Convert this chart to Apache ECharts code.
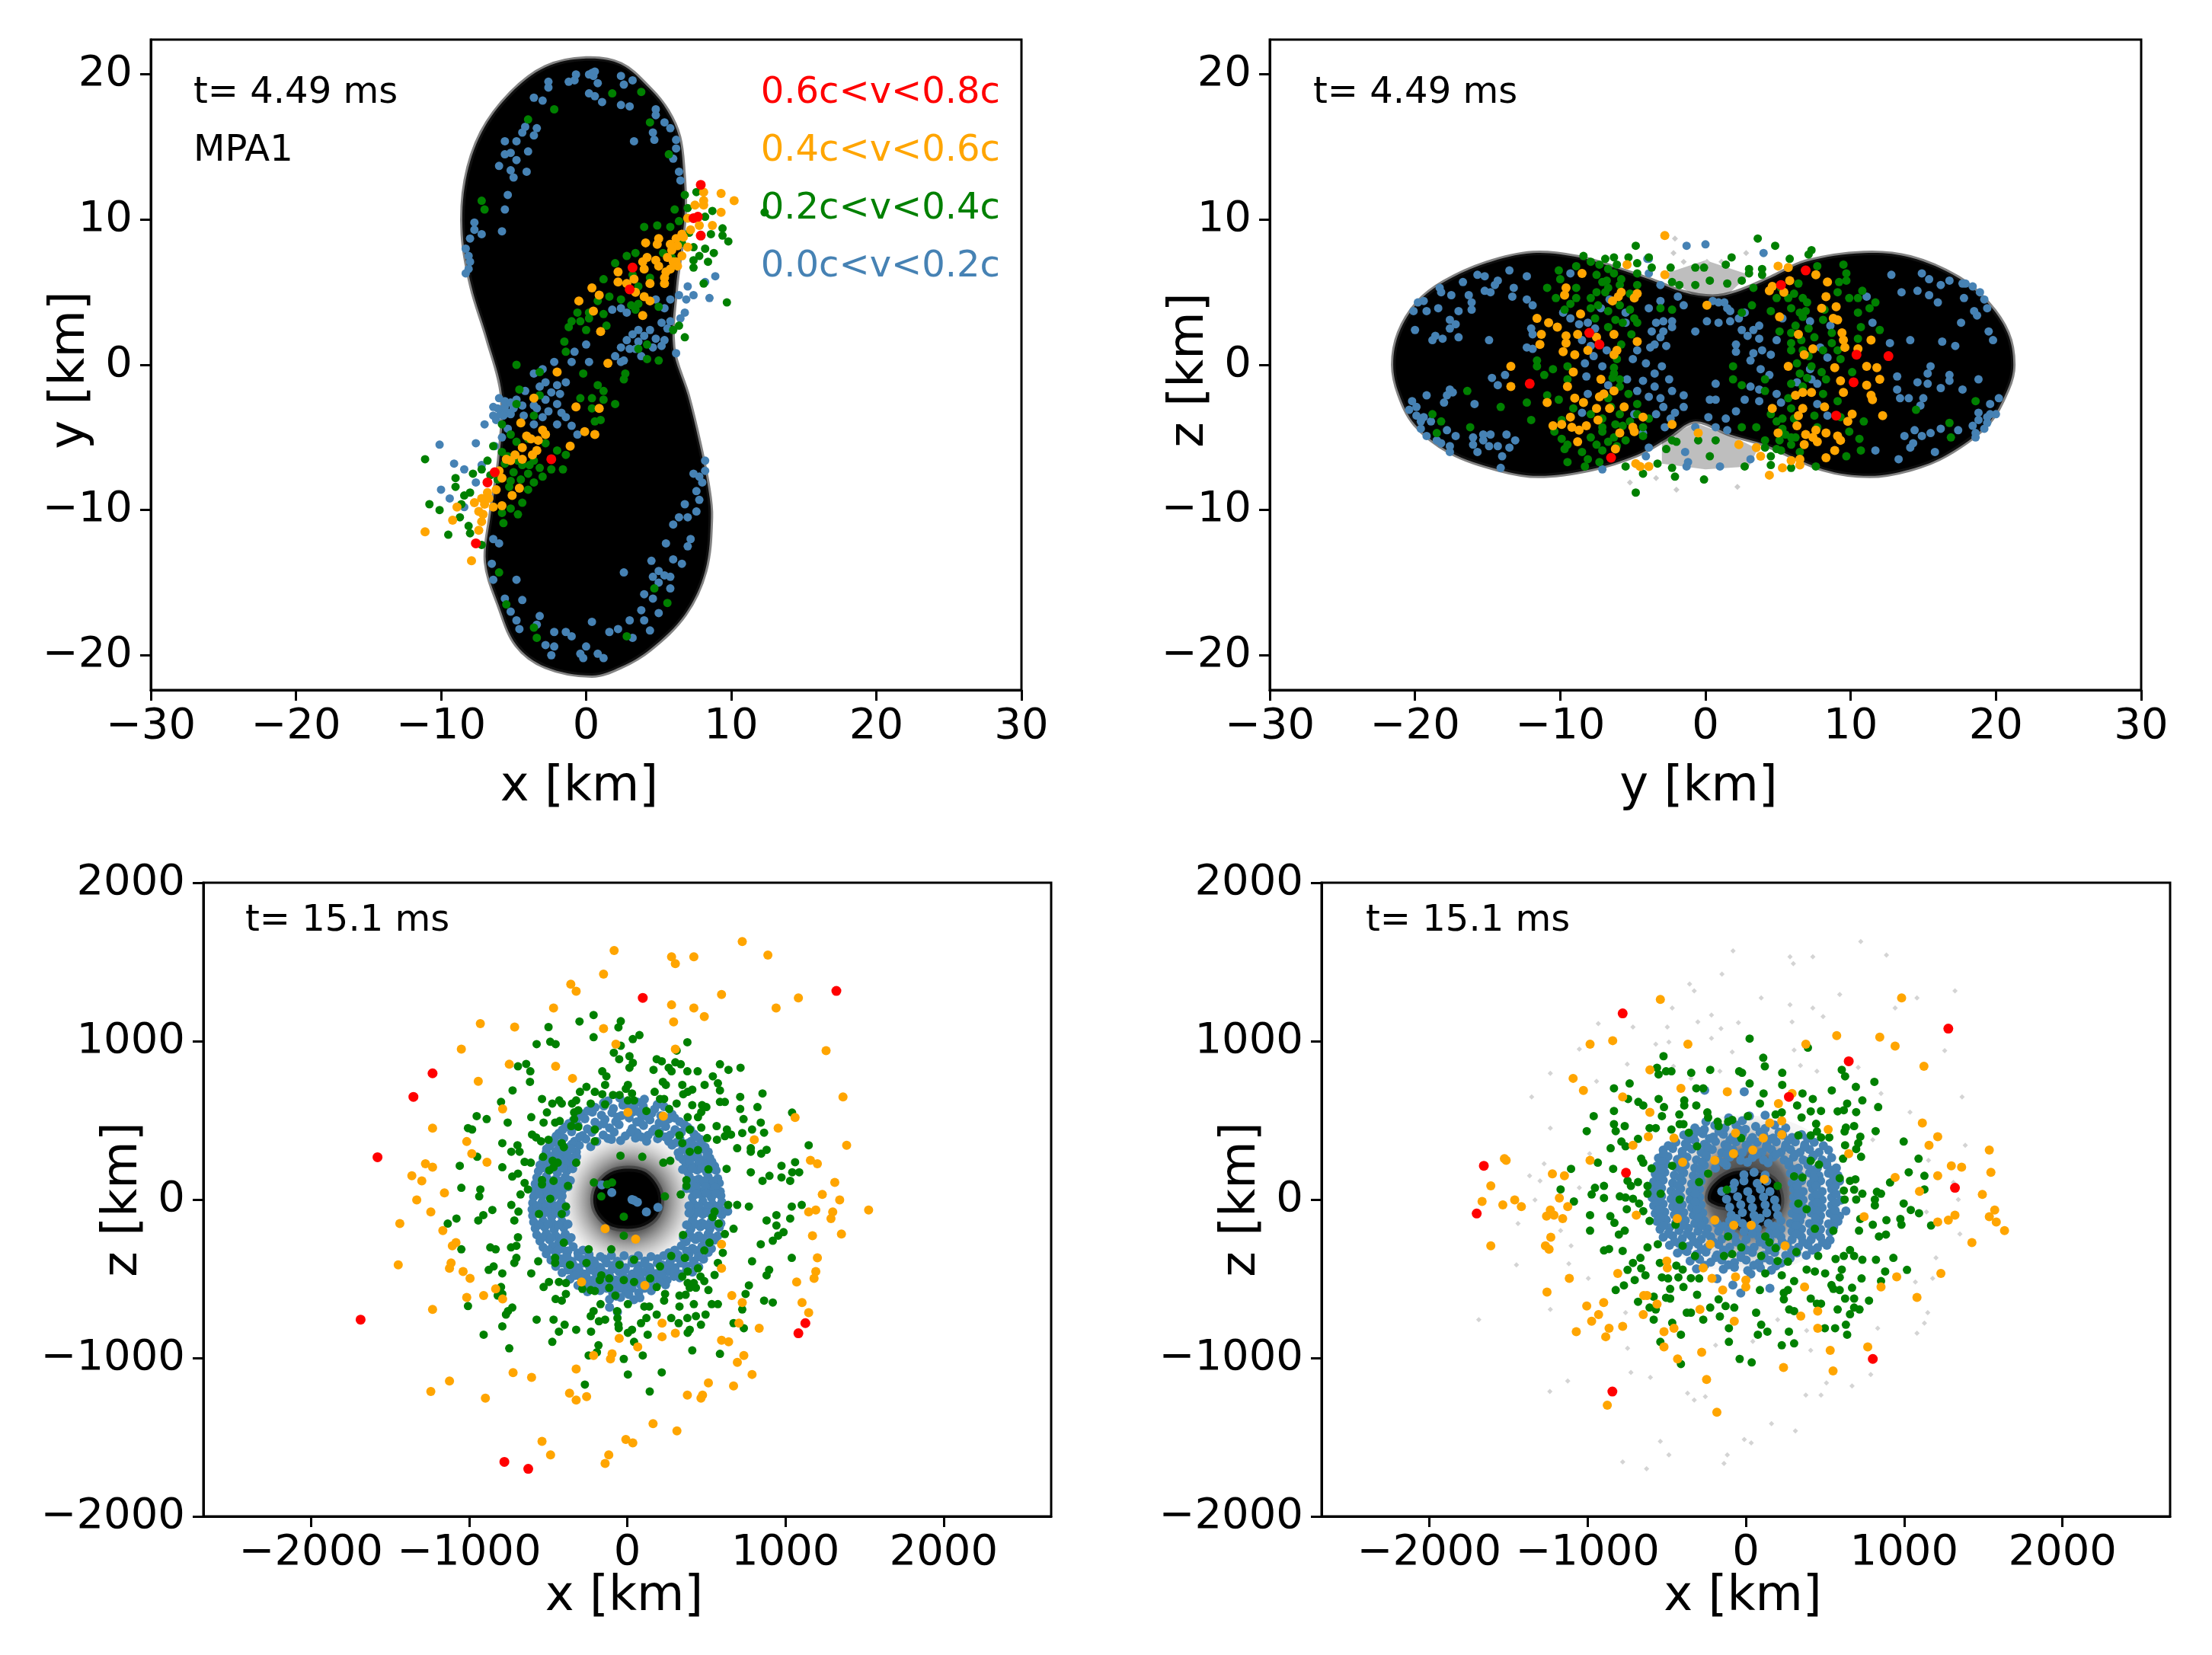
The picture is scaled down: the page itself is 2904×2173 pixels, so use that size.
<!DOCTYPE html>
<html><head><meta charset="utf-8"><style>html,body{margin:0;background:#fff}#c{width:2904px;height:2173px}</style>
<script src="https://cdn.jsdelivr.net/npm/echarts@6/dist/echarts.min.js"></script></head><body><div id="c"></div>
<script>
const xTicksTop=[-30,-20,-10,0,10,20,30];
const yTicksTop=[-20,-10,0,10,20];
const xTicksBot=[-2000,-1000,0,1000,2000];
const yTicksBot=[-2000,-1000,0,1000,2000];
const blob1=[[0,21.1],[2.4,20.7],[4.4,19.0],[5.6,17.5],[6.4,15.7],[6.7,13.3],[6.8,10.8],[6.6,8.4],[6.2,5.4],[6.0,1.2],[7.0,-2.1],[7.8,-5.4],[8.4,-8.4],[8.6,-10.5],[8.2,-14.2],[6.8,-17.2],[4.4,-19.6],[2.4,-20.8],[0.4,-21.4],[-2.8,-20.8],[-4.8,-19.3],[-6.0,-16.6],[-6.9,-13.6],[-6.6,-10.5],[-6.0,-6.6],[-5.8,-2.1],[-6.8,1.8],[-7.9,5.4],[-8.5,9.0],[-8.3,12.7],[-7.2,16.0],[-5.2,18.7],[-2.8,20.5]];
const blob2=[[-11.9,7.7],[-8.7,7.4],[-6.3,6.7],[-3.9,5.9],[-1.5,5.0],[0.5,4.7],[2.1,5.0],[4.5,6.0],[6.9,7.1],[10.9,7.7],[14.1,7.4],[17.4,6.0],[19.4,4.3],[20.8,2.2],[21.2,0],[20.8,-1.7],[19.4,-4.1],[16.6,-6.2],[14.1,-7.2],[11.3,-7.65],[8.1,-7.2],[4.1,-5.5],[1.7,-4.8],[-0.7,-3.9],[-2.7,-5.1],[-4.7,-6.2],[-7.9,-7.2],[-11.5,-7.65],[-14.3,-7.2],[-17.6,-6.0],[-20,-4.1],[-21.1,-2.0],[-21.5,0],[-21.1,2.2],[-19.8,4.3],[-18,5.7],[-15.1,7.0]];
const haze2Top=[[-3,6.2],[0,7.2],[3,6.2],[1.7,5],[0.5,4.5],[-0.8,4.8]];
const haze2Bot=[[-3,-5.2],[-0.7,-4],[2,-5],[3.6,-5.8],[3,-7],[0,-7.2],[-3,-6.8]];
const halo3=[[-420,60],[-370,250],[-200,390],[20,420],[240,380],[400,240],[440,40],[400,-190],[260,-360],[30,-430],[-210,-380],[-380,-210]];
const core3=[[-215,0],[-190,90],[-110,170],[0,195],[110,175],[190,90],[215,0],[190,-100],[110,-165],[0,-185],[-110,-165],[-190,-90]];
const halo4=[[-580,60],[-500,310],[-290,490],[20,530],[310,480],[540,310],[610,40],[540,-230],[330,-400],[20,-450],[-310,-410],[-530,-230]];
const core4=[[-240,0],[-210,90],[-100,170],[30,180],[170,130],[220,30],[210,-70],[130,-150],[20,-190],[-60,-160],[-110,-60],[-180,-40]];

const p1Red=[[7.9,12.4],[7.7,10.2],[7.4,10.1],[7.9,8.9],[3.2,6.7],[3.0,5.2],[-2.4,-6.5],[-6.3,-7.4],[-6.8,-8.1],[-7.6,-12.3]];
const p1Orange=[[9.3,11.8],[10.2,11.3],[8.1,11.9],[8.1,11.3],[7.5,11],[9.3,10.5],[8.1,11],[7,10.1],[7.8,9.6],[8.7,9.6],[6.6,9],[6.2,8.7],[5.8,8.3],[5,8.7],[4.9,8.3],[4.1,8.4],[7,8.1],[6.6,7.5],[6.2,7.1],[5.8,6.6],[5.4,6],[5.4,5.6],[3.9,7.1],[4.8,7.2],[5,6.8],[4,6.6],[2.2,6.4],[2.2,5.7],[2.8,5.6],[3.4,5],[4,4.7],[4.4,4.4],[0.4,5.3],[0.9,4.8],[-0.5,4.4],[0.5,3.7],[3.9,3.4],[1,2.3],[1.5,0.1],[-2,-0.5],[-3.6,-2.3],[-0.7,-2.9],[0.9,-3],[-4.5,-4],[-4.1,-4.9],[-3,-4.5],[-2.8,-4.8],[-0.1,-4.6],[0.6,-4.8],[-1.1,-5.6],[-4.4,-5.7],[-3.4,-5.9],[-3.7,-6.2],[-4.9,-6.2],[-5.2,-6.6],[-4.4,-6.5],[-6,-7.3],[-5.8,-7.8],[-4.6,-8.5],[-5.1,-9],[-6.2,-8.6],[-6.8,-8.8],[-7.2,-9.2],[-7.7,-9.5],[-7,-9.6],[-6.4,-9.8],[-5.8,-9.7],[-8.9,-9.8],[-9.2,-10.7],[-7.2,-10.8],[-7.4,-11.4],[-11.1,-11.5],[-7.9,-13.5],[6.3,8.2],[5.9,7.9],[5.6,7.4],[6,7.1],[6.3,6.8],[5.5,6.4],[6.7,8.8],[7.2,9.3],[4.4,5.6],[4.2,7.4],[3.3,5.9],[-3.8,-5.1],[-3.3,-5.2],[-5.5,-6.5],[-7.4,-10.1],[-6.7,-9.2],[-7.1,-10.3]];
const p1Green=[[7.6,11.9],[6.8,11.7],[6.1,10.7],[7,10.8],[8.7,10.6],[8.2,10.2],[6.4,9.9],[5.8,9.5],[4.9,9.6],[4,9.5],[9.4,9.4],[8.6,9],[9.4,8.9],[9.8,8.5],[8.2,8],[8.8,7.7],[7.4,8.1],[7.8,7.5],[3.4,7.7],[2.8,7.5],[2,7],[3.2,6.2],[3.6,5.4],[7.4,6.7],[8.4,7.1],[8.1,5.6],[9.7,4.3],[1.2,5.9],[1.6,4.7],[2.4,4.5],[0.8,4.4],[3.6,4.2],[3.4,3.8],[-0.6,3.6],[0.2,3.6],[-1,3],[-0.4,3],[0.2,3.2],[1.2,3.5],[-1.2,2.6],[0,2.4],[1.4,2.7],[6.4,2.7],[6,2.4],[6.8,1.9],[-1.5,1.6],[-1.4,0.9],[4.2,1.4],[3.6,1.1],[5,0.3],[4.2,0.4],[-4.8,0],[-3.2,-0.5],[-0.2,-0.6],[2.7,-0.6],[2.6,-1],[0.8,-1.4],[-4.6,-1.7],[-3.2,-2.1],[1.2,-1.8],[-0.4,-2.3],[0.4,-2.3],[1.2,-2.4],[2,-2.7],[0.4,-3],[-4.8,-2.7],[-5.8,-4.1],[-3.6,-3.5],[0.6,-3.9],[1,-3.8],[-5.2,-4.8],[-4.8,-5.3],[-4,-5.1],[-2.8,-5.4],[-2,-5.9],[-1.4,-6.2],[-6.4,-5.6],[-5.8,-6],[-6.8,-6.6],[-5.6,-6.8],[-4.4,-6.9],[-3.6,-6.6],[-3.2,-7.1],[-2.4,-7.2],[-1.6,-7.2],[-5,-7.4],[-4,-7.5],[-3,-7.7],[-7.2,-7.2],[-9,-7.8],[-7.8,-7.5],[-5.2,-8],[-3.6,-8.1],[-4,-8.6],[-9,-8.4],[-8.4,-9],[-4.4,-9.5],[-5.2,-9.9],[-4.7,-10.3],[-5.8,-10.2],[-5.7,-10.9],[-11.1,-6.5],[-10.8,-9.6],[-10.1,-10],[-8.7,-10.5],[-8.1,-11.1],[-9.5,-11.7],[-8,-11.6],[-7.2,-12.4],[1.8,18.7],[3.8,18.8],[-2.2,17.6],[-4,16.9],[4.4,16.7],[5.7,14.5],[-7.2,11.3],[-7,10.7],[4.7,-15.4],[5.6,-16.4],[-6,-14.3],[-5.5,-16.5],[-3.6,-18.1],[-3.4,-18.8],[2.8,-18.7],[12.3,10.5],[-5.4,-6.3],[-4.7,-6.6],[-3.9,-6.9],[-6.1,-7.9],[-5.3,-8.4],[-4.5,-7.9],[-6.6,-7.6],[-8,-8.8],[-8.6,-9.6],[5.3,7.7],[6.6,8.4],[7.4,7.2],[5.9,7.4],[4.4,6],[5,4],[3.1,4.1],[7.1,9.1]];
const p1Blue=[[0.4,20.1],[0.5,19.9],[-2.6,19.5],[-1.2,19.5],[-0.8,19.6],[-0.7,20],[0.2,20],[0.6,20.2],[0.8,19.4],[2.4,19.9],[2.6,19.3],[3.2,19.6],[0.2,18.7],[0.6,18.5],[1.1,18.1],[2.4,17.9],[3,17.8],[-3.6,18.4],[-3,18.2],[-2.6,19.1],[-4.2,16.4],[-4.4,16],[-3.6,15.8],[-3.4,16.3],[-5.6,15.4],[-4.8,15.4],[-5.2,14.6],[-5.6,14.5],[-6,13.7],[-4.8,14.1],[-4,14.7],[-5.2,13.4],[-4.1,13.3],[-5,12.9],[-5.4,11.7],[-5.6,10.7],[-7.7,9.8],[-7.7,9.3],[-7.2,9],[-8,8.7],[-5.8,9.2],[-8.3,8],[-8.1,7.5],[-8,7.1],[-8.1,6.6],[-8.3,6.3],[4.8,17.6],[4.8,17.2],[5.4,16.7],[5.8,16.3],[6.2,15.5],[6.2,14.9],[4.6,16],[4.7,15.5],[3.3,15.4],[6,14.2],[6.4,13.3],[6.5,12.7],[8.9,6.1],[8.2,5.7],[7,5.4],[7.4,4.8],[8.5,4.6],[6.4,4.8],[5.8,4.5],[4.8,4.5],[5.4,3.9],[6.8,3.6],[5.8,3],[5.2,2.9],[4.4,2.4],[3.6,2.4],[3.2,2.1],[2.8,1.7],[2.4,1.2],[2,0.6],[2.6,0.3],[4,2],[4.8,1.8],[5.4,1.7],[3.4,1.1],[3,1.1],[6.2,0.8],[2.4,3.9],[1.8,3.8],[2.8,3.6],[0,1.4],[-0.8,0.9],[-2.2,0.2],[-3,-0.3],[-3.6,-0.6],[-1,0.2],[0.2,0.2],[-2.8,-1.2],[-3.2,-1.5],[-2,-1.4],[-1.4,-1.2],[-4.2,-1.8],[-4.8,-2.4],[-6,-2.3],[-6.4,-2.9],[-5.8,-3.2],[-5.4,-3.3],[-5.6,-2.9],[-5,-3],[-6.4,-3.5],[-6.2,-3.8],[-2.8,-2.4],[-2,-2.7],[-1.4,-3.6],[-2,-4.1],[-1,-4.2],[-0.6,-4.8],[-3,-3.6],[-3.6,-4.1],[-5.4,-4.4],[-5.8,-5],[-7,-4.1],[-7.6,-5.4],[-6.3,-5.6],[-10.1,-5.5],[-9.1,-6.8],[-8.4,-7.2],[-7.2,-6.9],[-7.6,-8.1],[-10,-8.6],[-9.4,-9.2],[-8.4,-9.8],[8.2,-6.6],[8.2,-7.3],[7.8,-7.7],[7.4,-7.5],[8,-8.1],[7.6,-8.7],[7.8,-9.3],[6.8,-9.6],[7.6,-10.1],[7,-10.5],[6.4,-10.5],[6,-11],[7.2,-12],[7,-12.5],[5.5,-12.3],[4.5,-13.5],[6,-13.4],[6.6,-13.7],[5,-14.2],[5.4,-14.5],[5.8,-14.6],[4.6,-14.6],[5,-15],[5.8,-15.4],[4,-15.8],[4.6,-16.1],[2.6,-14.3],[-4.8,-14.8],[-6.4,-12],[-6,-12.3],[-6.5,-13.7],[-6.4,-14.8],[-5.6,-16.1],[-4.4,-16.2],[-5.2,-17],[-4.8,-17.6],[-4.6,-18.2],[-3.2,-17.3],[-3.4,-17.9],[3.8,-16.9],[5,-17.1],[3,-17.6],[4,-17.6],[0.4,-17.7],[4.4,-18.3],[1.6,-18.4],[2.2,-18.2],[3.2,-18.8],[-2.2,-18.4],[-1.4,-18.4],[-1,-18.7],[-2.8,-19.3],[-2.2,-19.4],[-2.4,-20],[0,-19.4],[-0.4,-19.9],[0.8,-19.9],[1.2,-20.2],[-0.2,-20.2],[-5.6,-2.5],[-5.2,-2.6],[-5.9,-3.4],[-6.1,-3],[-5.7,-3.5],[-5.2,-3.4],[-4.4,-2.8],[-3.6,-2.8],[-2.4,-1.9],[-1.8,-2],[-3.4,-3],[-2.6,-3.2],[-1.7,-3.3],[-4.3,-3.5],[3.6,1.6],[4.6,1.2],[5.2,1.3],[3.8,0.6],[2.4,0.2],[5.6,2.5],[6.5,3.2],[6.9,4.5]];

const p2Red=[[6.9,6.5],[5.2,5.5],[-8,2.2],[-7.3,1.4],[10.4,0.7],[12.6,0.6],[-12.1,-1.3],[10.2,-1.2],[9,-3.5],[-6.5,-6.4]];
const p2Orange=[[-2.8,8.9],[-5.4,6.9],[-8.5,6.3],[-2.8,6.2],[5,6.8],[5.7,6.7],[7.6,6.2],[5.8,5.8],[8.4,5.7],[4.6,5.4],[4.4,5.1],[5.4,5],[-9.6,5.3],[-9.7,4.8],[-5.8,5],[-6,4.7],[-4.7,4.9],[-4.9,4.6],[-6.4,4.4],[8.3,4.7],[0.1,4.1],[8,3.9],[9,4],[-8.6,3.5],[5.1,3.3],[8.8,3.2],[9.1,3.1],[-11.6,3.2],[-10.8,2.9],[-10.2,2.6],[-11.3,2.1],[-9.6,2],[-8.8,2.1],[-7.5,1.9],[-6.3,2.1],[-11.4,1.4],[-9.6,1.5],[-4.7,1.6],[-8.1,1],[-6.1,1],[-9.8,0.9],[-9,0.7],[-6.3,0.7],[6.4,2.1],[9.4,2.2],[9.5,1.7],[9.6,1.2],[11.4,1.7],[10.5,1.1],[7.4,1.1],[6.8,0.7],[-13.4,-0.1],[5.7,-0.1],[8.9,-0.2],[11.1,-0.1],[11.8,-0.2],[12,-1],[-9.1,-0.5],[-7.2,-1],[9.3,-1.1],[11.1,-1.4],[-13.4,-1.5],[-9.5,-1.5],[-6.3,-1.8],[-7,-2],[-7.3,-2.2],[-9,-2.3],[9.5,-1.9],[7.3,-1.9],[6.7,-1.9],[6.2,-2.1],[11.4,-2.1],[11.5,-2.4],[-10.9,-2.6],[-8.4,-2.6],[-7.5,-3],[-6.6,-3],[-5.6,-2.9],[4.6,-3],[6.7,-3],[8.2,-2.9],[10.1,-3.4],[12.2,-3.5],[9.8,-3.9],[-9.3,-3.6],[-4.3,-3.6],[6.4,-3.5],[-7.4,-3.8],[-10.5,-4.2],[-9.9,-4.1],[-9.2,-4.3],[-8.2,-4.2],[-8.7,-4.5],[-2.3,-4.1],[6.3,-4.2],[-5,-4.3],[-4.9,-4.6],[-5.9,-4.7],[-0.5,-4.7],[5,-4.7],[7.6,-4.5],[8.3,-4.7],[6.9,-4.8],[9.1,-4.9],[9.3,-5.2],[7.4,-5],[7.7,-5.3],[6.8,-5.5],[-8.8,-5.3],[2.3,-5.5],[3.5,-5.7],[-6.2,-5.8],[8.9,-5.9],[3.8,-6.3],[8.3,-6.4],[5.9,-6.6],[6.5,-6.5],[6.5,-6.9],[5.3,-7.1],[4.4,-7.6],[-4.8,-6.8],[-4.5,-7],[-3.9,-7]];
const p2Green=[[-4.8,8.2],[3.6,8.7],[4.8,8.2],[7.3,7.9],[7.1,7.6],[5.8,7.3],[1.8,7.4],[-3.9,7.4],[-5.3,7.4],[-6.3,7.4],[-6.9,7.3],[-8.4,7.5],[-7.9,7.1],[-7.3,6.9],[-6.1,6.9],[-4.7,7],[-10.1,6.5],[-8.9,6.8],[-6.3,6.3],[-6.7,6.6],[-7.5,6.2],[-4.7,6.3],[-3.7,6.7],[-2.4,6.7],[-0.7,6.7],[-0.1,6.7],[1.4,6.9],[3,6.6],[3.9,6.6],[3.9,6.2],[3,6.3],[9.5,6.9],[7.7,6.8],[9.7,6.3],[9.7,5.8],[9.2,5.7],[-10,5.9],[-10.9,5.3],[-8.9,5.3],[-7.1,5.7],[-5.8,5.9],[-6.7,5.3],[-7.5,5],[-10.3,4.6],[-8.9,4.6],[-7.9,4.6],[-6.9,5],[-5.9,5.5],[-4.7,5.5],[-2.3,5.7],[-1.8,5.5],[-0.7,5.5],[0.3,5.8],[1.5,5.6],[2.5,5.8],[3.3,5.3],[4.9,4.6],[5.7,4.6],[6.7,4.6],[9.1,5],[9.9,4.6],[10.8,5.1],[10.5,4.6],[11.7,4.3],[11.3,3.9],[-9.3,4.2],[-9.7,3.8],[-7.9,3.9],[-5.9,4.1],[-6.7,3.7],[-2.3,3.8],[-3.1,3.9],[2.5,3.6],[3.2,4.1],[4.5,3.7],[5.9,3.9],[6.9,3.7],[6.7,3.3],[8.1,3.1],[10.5,3.6],[10.7,2.6],[-4.9,3.2],[-5.7,2.9],[-4.7,2.9],[-7.6,3.2],[12,2.4],[5.1,2.3],[5.9,2.2],[10.5,1.8],[8.7,1.5],[-5.1,2.1],[5.9,1.5],[7.5,1.9],[5.9,1],[8.1,1],[9.1,1],[6.7,1],[-6.1,0.4],[7.1,0.6],[9.3,0.4],[-11.6,0.3],[-11.6,-0.1],[-10.5,-0.3],[-9.5,-0.1],[-6.3,-0.2],[1.9,-0.1],[6.3,0.1],[7.3,-0.1],[-11.1,-0.7],[-9.5,-1],[-6.3,-0.6],[10.1,-0.5],[6.5,-0.6],[8.3,-1],[1.9,-1],[4.1,-1],[-5.9,-1],[-16.4,-1.8],[-5.9,-1.5],[2.5,-1.4],[5.9,-1.3],[-5.3,-2],[-6.7,-2.3],[-10.9,-2.1],[-12.3,-2.6],[-14.1,-2.9],[-10.1,-2.4],[-9.1,-3],[-4.7,-2.7],[4.1,-1.8],[5.7,-2.3],[8.1,-2],[9.1,-2.5],[18.6,-2.5],[14.5,-3.1],[-18.8,-3.4],[-18.2,-3.9],[-12,-3.8],[-16.2,-4.3],[-18.5,-4.7],[16.8,-4],[16.9,-5],[10.9,-3.9],[-9.9,-3.8],[-7.9,-3.4],[-7.1,-3.7],[-5.9,-3.4],[-4.7,-3.4],[4.5,-3.4],[5.3,-3.7],[6.1,-3.7],[7.5,-3.5],[9.3,-3.6],[-3.9,-3.7],[4.9,-3.9],[2.5,-4.3],[3.5,-4.3],[7.7,-4.3],[-10.4,-4.6],[-9.9,-5.1],[-7.9,-5],[-7.1,-4.6],[-5.7,-4.2],[-4.3,-4.3],[9.9,-4.6],[10.6,-5.1],[-4.3,-4.9],[-2.3,-5.2],[-0.5,-5.2],[0.7,-5.2],[4.1,-5.2],[5.1,-5.2],[5.9,-5],[-9.5,-5.5],[-7.5,-5.5],[-6.7,-5.3],[-5.5,-5.2],[-2,-5.3],[4.1,-5.7],[4.9,-5.8],[5.9,-5.5],[-9.7,-5.8],[-8.5,-6],[-7.1,-5.9],[-2.7,-5.8],[10.7,-5.9],[6.5,-6],[9.7,-6.3],[0.3,-6.3],[4.5,-6.3],[-8.1,-6.5],[-9.5,-6.7],[-7.3,-6.7],[-3.3,-6.8],[2.7,-7],[4.5,-6.9],[7.6,-7],[-8.3,-7],[-5.5,-7],[-2.3,-7.1],[5.9,-7.1],[-4.3,-7.5],[-2.1,-7.7],[-0.1,-7.9],[-4.8,-8.8],[-6.8,5.8],[-5.2,4.9],[-6.2,3.1],[-7.4,4.1],[-5.2,3.8],[-6.7,2.6],[-5.8,1.4],[-6.4,-0.9],[-6.5,-2.9],[-7.1,-4.3],[-6.2,-4.1],[-5.2,-3.9],[-6.3,-5],[-6.1,-5.6],[5.2,5.3],[6.4,5.6],[6.1,4.9],[7,4.3],[6.5,3.6],[6.2,2.7],[7.1,2.5],[6.6,1.7],[8,-0.5],[7,-0.9],[6.7,-1.5],[5.9,-3],[5.3,-4.4],[6.2,-5],[5.2,-5.9],[5.5,-4.8],[8.7,2.2],[8.2,3.8]];
const p2Blue=[[-13.5,6.5],[-15.7,6.2],[-12.3,6.1],[-16.7,5.7],[-15.2,6.1],[-14.3,5.8],[-14.5,5.5],[-14.8,5],[-15.2,5.1],[-18.3,5.3],[-18.2,5],[-17.5,4.8],[-16.3,4.8],[-13.2,5.3],[-13.3,4.7],[-19.4,4.4],[-19.8,4.3],[-16.1,4.3],[-12.3,4.5],[-11.9,4.1],[-20.1,3.7],[-19.2,3.7],[-18.4,3.9],[-17,3.7],[-16.1,3.8],[-17.6,3.1],[-17.2,2.8],[-17.6,2.5],[-20,2.4],[-17,1.9],[-18.6,2],[-18.1,1.8],[-18.8,1.7],[-14.9,1.7],[-11.9,2.1],[-12.3,1.2],[-11.9,1.1],[-14.7,-0.9],[-13.8,-0.7],[-14.3,-1.4],[-17.6,-1.7],[-17.4,-1.9],[-17.8,-2.1],[-19.2,-2.1],[-18,-2.6],[-15.9,-2.7],[-20.2,-2.5],[-19.9,-2.9],[-20.4,-3.1],[-19.9,-3.5],[-19.4,-3.6],[-19.6,-3.9],[-18.9,-3.9],[-19.6,-4.4],[-19.2,-4.9],[-18.5,-5.2],[-17.8,-4.5],[-18.2,-5.4],[-17.6,-5.6],[-17.6,-6],[-17.2,-4.9],[-16,-5],[-15.3,-4.8],[-14.8,-4.8],[-15.3,-5.2],[-13.7,-4.8],[-13.1,-5.2],[-16,-5.5],[-14.9,-5.6],[-14.3,-5.6],[-13.5,-5.7],[-15.7,-6],[-14,-6.3],[-14.1,-7.1],[-9.3,6.3],[-4,7.3],[-3.9,6.3],[-9.8,3.6],[-9.3,3.2],[-12,2.5],[-8.5,1.7],[-7.9,1.3],[-8.3,0.1],[-7.7,0.6],[-7.1,-0.1],[-4.1,0.1],[-4.7,1],[-3.5,1.4],[-2.7,1.3],[-3.1,1.9],[-3.7,2.3],[-2.9,2.3],[-2.9,3],[-2.3,3],[-2.3,2.6],[-3.9,3.9],[-3.1,4.4],[-1.9,4.7],[-1.5,4.1],[0.9,4.3],[1.5,3.9],[0.1,3],[0.9,2.9],[1.7,3],[2.7,3.6],[-0.7,2.3],[2.5,2.4],[3.3,2.4],[2.9,2],[3.7,1.8],[2.1,1.4],[3.9,1],[3.3,0.8],[3.1,0.3],[2.1,0.9],[-3.5,-0.6],[-4.3,-1.1],[-3.5,-1.5],[-2.5,-1],[0.7,-1.3],[-2.3,-1.8],[-4.7,-1.8],[-3.9,-2.2],[-3.1,-2.3],[0.3,-2.4],[-1.5,-2.1],[-1.5,-2.9],[0.7,-2.4],[2.1,-3.2],[3.1,-1.5],[3.7,-1.7],[3.7,-2.5],[4.9,-2],[7.3,-1],[7.7,-1.3],[-2.1,-3.3],[-4.9,-3.4],[-0.7,-4.3],[0.7,-4.3],[1.5,-4.5],[-4.3,-4.7],[-4.1,-6.3],[-7.1,-7.2],[-1.2,-6.7],[1,-7],[-1.4,-6],[3.1,-6.5],[-1.3,-7],[-3.9,-5.7],[-8.7,2.8],[-8.1,2.9],[-5.5,3.6],[-3.1,5.5],[-1.3,8.2],[0,8.3],[4,7.7],[-3.9,7.3],[1.3,4.3],[0.5,4.4],[1.7,3.7],[2.3,3.2],[3.7,2.7],[11.1,4.7],[12.8,6.2],[14.9,6.3],[15.4,5.9],[16.8,5.8],[17.7,5.6],[16.2,5.5],[17.9,5.6],[18.4,5.4],[13.5,5],[14.6,5.1],[15.4,4.8],[17.8,4.6],[18.9,5],[19.2,4.5],[16,4.3],[19.4,3.9],[18.5,3.7],[18.7,3.4],[17.6,2.9],[19.5,2.3],[14.1,1.7],[16.3,1.6],[17.2,1.3],[19.8,1.7],[12.7,1.5],[11.5,2.9],[15.5,-0.1],[15.3,-0.6],[16.8,-0.7],[18.8,-1],[13.2,-0.8],[14.6,-1.2],[15.3,-1.3],[16.8,-1.1],[16.2,-1.6],[17.7,-1.7],[13.2,-1.7],[13.4,-2.3],[14,-2.3],[15,-2.3],[14.8,-2.8],[20.2,-2.3],[19.6,-2.7],[18.8,-3.3],[20,-3.4],[19.4,-3.6],[18.8,-3.8],[19.4,-4],[19.6,-3.4],[18.4,-4.2],[19.2,-4.4],[18.6,-4.7],[18.6,-5],[16.2,-4.4],[14.4,-4.5],[15.5,-4.7],[17.4,-4.5],[13.7,-4.9],[14.9,-4.9],[14.3,-5.4],[14.1,-5.7],[15.8,-6],[13.3,-6.5],[11.7,-5.9],[-7.2,3.9],[-6.6,4.5],[-7.6,2.5],[-6.8,1],[-6.7,-1.4],[-8.2,-0.8],[-8.1,-2],[-8.5,-3.3],[-5.4,-1],[-5,0.4],[-5.5,2.9],[-3.4,2.9],[-3.8,1.2],[-3,-0.1],[-2.9,-2.9],[-3.4,-3.4],[-2.8,-4.3],[-2.4,-3.7],[0.2,-3.6],[1.4,-3.7],[3.8,-0.3],[4.4,-0.7],[4.5,0.7],[4.9,1.7],[5.3,3.2],[7.9,1.2],[8.4,0.5],[8.6,2.7],[7.2,3],[7.2,-0.3],[7.7,-2.7],[8.4,-3.5],[6.3,-1.2],[5.2,-2.6],[2.7,-2.4]];
const p2Gray=[[-2.1,8.7],[2.8,7.7],[-2.2,7.7],[-1.5,7.1],[0.1,7.1],[1.1,7.1],[-5.2,-8.1],[-3.4,-7.8],[-2,-8.6],[2.2,-8.4]];

const p3Red=[[1322,1317],[98,1273],[-1231,797],[-1352,648],[-1579,267],[-1686,-758],[1126,-780],[1082,-844],[-777,-1656],[-626,-1700]];
const p3Orange=[[727,1629],[889,1543],[-83,1572],[280,1533],[304,1489],[421,1533],[-150,1423],[-357,1359],[-323,1315],[596,1295],[1082,1273],[941,1209],[280,1229],[421,1209],[487,1155],[-466,1209],[293,1121],[-929,1111],[-712,1089],[-150,1079],[-1049,949],[-72,981],[304,949],[1257,940],[-746,854],[-453,841],[-942,746],[-346,765],[1364,648],[-788,572],[4,550],[228,527],[1061,518],[-1231,451],[-1015,366],[954,451],[803,378],[1387,343],[-983,290],[-887,236],[-1276,226],[-1231,204],[1158,248],[1202,226],[-1362,150],[-1299,118],[1312,108],[-1156,42],[1233,32],[-1331,-2],[1343,-2],[-1242,-78],[1147,-78],[1192,-66],[1299,-78],[1288,-120],[1526,-66],[-1438,-152],[-1166,-196],[1171,-228],[1354,-218],[-140,-184],[53,-250],[-1083,-272],[-1106,-292],[596,-282],[1202,-368],[-1448,-412],[-1114,-400],[-1124,-434],[-1038,-454],[-994,-498],[596,-434],[1192,-454],[1181,-498],[1071,-520],[-289,-520],[111,-542],[-832,-564],[-908,-606],[-1015,-618],[-788,-628],[661,-606],[727,-650],[1105,-650],[-1231,-694],[1147,-714],[220,-780],[706,-780],[834,-812],[304,-844],[220,-866],[-51,-876],[596,-888],[641,-898],[66,-930],[737,-984],[696,-1028],[-213,-984],[-96,-974],[-106,-1006],[-323,-1070],[-722,-1092],[-605,-1123],[789,-1104],[-1124,-1145],[513,-1158],[672,-1177],[-1242,-1212],[-365,-1222],[-257,-1244],[-323,-1266],[380,-1234],[476,-1234],[466,-1254],[-897,-1254],[163,-1415],[314,-1460],[-9,-1514],[35,-1536],[-539,-1526],[-485,-1612],[-117,-1612],[-140,-1666]];
const p3Green=[[-213,1165],[-41,1126],[-302,1124],[-56,1087],[-498,1089],[-213,1025],[77,1038],[35,1013],[-487,996],[-453,981],[-573,981],[380,993],[-41,971],[-85,927],[312,940],[14,905],[-51,886],[186,886],[218,873],[35,863],[304,866],[338,854],[14,832],[-639,856],[-691,841],[-613,810],[166,819],[262,832],[280,810],[380,810],[445,810],[586,854],[640,819],[716,832],[541,778],[-158,810],[-132,778],[-615,743],[-140,724],[-258,711],[4,724],[225,743],[244,724],[348,724],[489,724],[573,734],[586,689],[-725,689],[411,694],[382,680],[354,665],[-299,680],[-205,680],[-158,665],[-90,660],[-49,660],[-9,699],[30,670],[173,680],[714,648],[855,670],[-539,635],[-349,606],[-323,626],[-430,626],[-414,606],[-474,606],[-798,616],[-231,606],[-140,601],[4,626],[43,626],[207,635],[233,635],[312,606],[411,596],[473,596],[500,584],[586,616],[617,616],[714,572],[823,584],[1042,549],[-508,550],[-336,550],[-310,564],[121,559],[265,572],[468,552],[-952,527],[-889,508],[-607,520],[-756,486],[-529,486],[-456,486],[-427,496],[-336,508],[-354,464],[-310,459],[382,520],[447,520],[735,508],[844,486],[-1007,451],[-981,442],[-205,442],[395,442],[468,454],[565,464],[789,442],[865,422],[630,442],[727,420],[-602,410],[-576,392],[-545,368],[-498,378],[-414,356],[-205,368],[200,417],[330,405],[348,356],[505,388],[567,378],[617,400],[656,410],[-790,356],[-694,343],[-733,302],[-681,302],[-401,331],[695,324],[781,324],[781,302],[881,314],[847,290],[1147,343],[395,302],[447,312],[-949,270],[-532,270],[-472,245],[-440,233],[-649,238],[-610,233],[-43,277],[95,270],[228,233],[272,245],[-323,233],[1061,236],[-1059,213],[-790,204],[-466,204],[-493,184],[975,213],[628,194],[513,191],[1043,172],[1087,172],[781,172],[-691,164],[-727,145],[975,140],[899,150],[855,118],[1030,118],[-539,123],[-466,118],[-649,105],[-211,108],[-127,96],[-96,108],[-539,96],[374,123],[374,86],[-1049,74],[-929,64],[-628,64],[-375,86],[-675,32],[-936,20],[-164,20],[238,20],[338,32],[-487,5],[638,-34],[695,-34],[769,-44],[1040,-44],[1103,-34],[-733,-34],[-853,-66],[-388,-44],[-688,-76],[-558,-91],[-414,-91],[-22,-108],[552,-76],[539,-110],[-910,-98],[-942,-132],[-714,-132],[-1080,-120],[-1135,-152],[943,-98],[881,-132],[1030,-120],[943,-164],[672,-184],[578,-152],[988,-206],[954,-228],[920,-260],[844,-282],[353,-223],[-22,-228],[617,-218],[-691,-238],[-866,-302],[-832,-314],[-1049,-314],[-735,-302],[-701,-292],[-401,-272],[520,-272],[604,-336],[-244,-314],[-101,-314],[487,-321],[-701,-368],[-714,-400],[-563,-390],[-456,-368],[-456,-400],[43,-380],[278,-356],[364,-368],[789,-390],[1040,-368],[573,-400],[-845,-422],[-876,-444],[-362,-412],[-258,-400],[-49,-412],[207,-422],[447,-434],[382,-454],[897,-444],[881,-478],[-790,-466],[-607,-466],[-164,-478],[-174,-508],[348,-486],[552,-476],[463,-486],[-495,-520],[-432,-520],[-388,-527],[-114,-498],[-22,-508],[43,-520],[145,-498],[382,-527],[421,-527],[487,-515],[-529,-552],[-798,-552],[-790,-596],[-819,-606],[-388,-596],[-284,-564],[-231,-571],[-205,-577],[-114,-557],[-75,-606],[186,-552],[395,-557],[434,-557],[513,-571],[769,-542],[748,-596],[239,-596],[330,-606],[369,-601],[-453,-628],[-414,-638],[4,-660],[233,-638],[330,-675],[421,-660],[534,-660],[573,-660],[865,-638],[920,-650],[-1007,-672],[727,-694],[-727,-682],[-754,-704],[-767,-726],[-169,-660],[108,-675],[139,-675],[-64,-704],[186,-726],[434,-736],[495,-726],[-213,-704],[-231,-736],[-179,-768],[-140,-758],[-62,-748],[121,-748],[278,-748],[380,-748],[-573,-758],[-466,-758],[-56,-790],[87,-780],[325,-780],[466,-790],[672,-780],[737,-812],[-396,-790],[-790,-800],[-432,-834],[-323,-822],[-229,-834],[-54,-812],[30,-822],[4,-841],[129,-853],[395,-822],[382,-841],[-908,-853],[-474,-898],[43,-898],[-746,-939],[-182,-920],[-192,-964],[-244,-984],[98,-984],[-22,-1006],[411,-952],[586,-974],[4,-1104],[218,-1091],[-268,-1168],[142,-1212]];
const p3Blue=[[43,-5],[30,0],[64,-17],[-98,44],[121,-78],[194,-49],[-161,93],
[-122,622],[-47,640],[63,615],[108,633],[-203,582],[-148,590],[-88,574],[-28,596],[42,578],[101,589],[172,570],[233,586],[-284,541],[-221,552],[-163,533],[-97,548],[-36,530],[33,552],[92,526],[155,545],[212,529],[283,538],[-342,498],[-268,510],[-204,488],[-141,506],[-73,492],[12,515],[83,487],[143,503],[202,484],[262,508],[331,492],[-392,458],[-312,470],[-252,446],[-183,466],[-112,452],[-52,472],[31,448],[103,467],[172,445],[243,462],[302,441],[382,457],[-433,418],[-352,428],[-283,404],[-224,424],[-152,408],[-83,426],[-12,402],[62,422],[131,405],[203,428],[272,408],[342,424],[423,412],[-462,378],[-402,388],[-333,368],[-262,382],[-193,366],[-122,386],[-42,372],[52,388],[122,368],[192,384],[262,366],[333,382],[402,366],[463,380],[-492,338],[-433,346],[-372,330],[-303,342],[-231,334],[283,344],[352,328],[422,342],[492,332],[-513,298],[-452,304],[-392,288],[-322,302],[322,296],[383,306],[442,288],[512,300],[-532,258],[-472,266],[-412,250],[-352,262],[352,252],[412,264],[472,248],[522,262],[-552,218],[-492,226],[-432,210],[-372,222],[372,224],[432,208],[492,222],[552,212],[-562,178],[-502,186],[-442,170],[-382,182],[382,174],[442,186],[502,172],[562,184],[-572,138],[-512,146],[-452,130],[-392,142],[392,146],[452,130],[512,142],[572,132],[-582,98],[-522,106],[-462,92],[-402,102],[402,94],[462,108],[522,92],[582,104],[-588,58],[-528,66],[-468,50],[-408,62],[408,66],[468,52],[528,64],[588,50],[-592,18],[-532,26],[-472,12],[-412,22],[412,14],[472,28],[532,12],[592,24],[-598,-22],[-538,-14],[-478,-30],[-418,-18],[418,-26],[478,-12],[538,-28],[598,-16],[-602,-62],[-542,-54],[-482,-70],[-422,-58],[422,-52],[482,-68],[542,-56],[602,-70],[-598,-102],[-538,-94],[-478,-110],[-418,-98],[418,-106],[478,-92],[538,-108],[598,-96],[-592,-142],[-532,-134],[-472,-150],[-412,-138],[412,-132],[472,-148],[532,-136],[592,-150],[-582,-182],[-522,-174],[-462,-190],[-402,-178],[402,-186],[462,-172],[522,-188],[582,-176],[-572,-222],[-512,-214],[-452,-230],[-392,-218],[392,-212],[452,-228],[512,-216],[572,-230],[-552,-262],[-492,-254],[-432,-270],[-372,-258],[372,-266],[432,-252],[492,-268],[552,-256],[-532,-302],[-472,-294],[-412,-310],[-342,-298],[342,-292],[412,-308],[472,-296],[532,-310],[-512,-342],[-452,-334],[-382,-350],[-312,-338],[-242,-346],[262,-336],[322,-350],[392,-340],[452,-348],[512,-334],[-482,-382],[-422,-374],[-352,-390],[-282,-378],[-212,-388],[-142,-376],[-62,-390],[32,-378],[112,-388],[192,-374],[272,-390],[342,-378],[422,-388],[482,-376],[-452,-422],[-382,-414],[-312,-430],[-242,-418],[-172,-428],[-92,-416],[-12,-430],[72,-418],[142,-428],[222,-414],[302,-430],[372,-418],[452,-426],[-412,-462],[-342,-454],[-272,-470],[-202,-458],[-132,-468],[-52,-456],[32,-470],[102,-458],[182,-468],[262,-454],[332,-470],[412,-458],[-362,-502],[-292,-494],[-222,-510],[-152,-498],[-72,-508],[12,-496],[92,-510],[172,-498],[252,-508],[332,-494],[-312,-542],[-242,-534],[-162,-550],[-82,-538],[2,-548],[82,-536],[162,-550],[242,-538],[-252,-582],[-172,-574],[-92,-590],[-12,-578],[72,-588],[152,-576],[-112,-630],[-42,-618],[42,-632],[-112,-680],[-62,-710]];
const p3BlueExtra=[[-150,610],[10,600],[-250,560],[70,555],[190,600],[-310,520],[-60,520],[130,520],[300,515],[-370,480],[-150,478],[60,490],[230,480],[360,475],[-410,440],[-220,435],[20,425],[160,430],[310,430],[400,440],[-450,400],[-300,395],[-100,380],[90,395],[240,395],[440,395],[-480,355],[-350,350],[310,360],[380,355],[470,350],[-510,320],[-415,320],[-355,320],[350,315],[415,322],[480,318],[-500,280],[-440,280],[-375,275],[-320,270],[330,270],[385,280],[445,275],[505,280],[-525,240],[-455,240],[-395,235],[395,240],[455,238],[535,238],[-540,200],[-470,195],[-405,198],[-345,195],[350,190],[410,195],[470,198],[540,195],[-545,120],[-480,118],[-420,115],[-360,120],[425,120],[485,118],[545,115],[-555,80],[-495,78],[-435,76],[-375,80],[375,70],[435,78],[495,80],[555,78],[-560,35],[-500,35],[-440,30],[440,35],[500,40],[560,38],[-570,-40],[-510,-38],[-450,-40],[-390,-45],[390,-40],[450,-42],[510,-42],[570,-42],[-570,-80],[-510,-80],[-450,-85],[-390,-80],[390,-85],[450,-80],[510,-82],[570,-80],[635,-75],[-560,-160],[-500,-155],[-435,-160],[-375,-155],[375,-160],[435,-155],[495,-160],[555,-158],[-540,-240],[-480,-240],[-415,-245],[-355,-240],[355,-240],[415,-240],[475,-245],[535,-240],[-500,-320],[-440,-320],[-375,-325],[-280,-320],[300,-320],[375,-325],[440,-322],[500,-320],[-450,-360],[-380,-365],[-310,-360],[-240,-365],[-170,-360],[-100,-355],[-20,-355],[70,-355],[150,-360],[230,-355],[310,-365],[385,-360],[450,-362],[-415,-400],[-345,-405],[-275,-400],[-205,-405],[-130,-400],[-50,-405],[30,-400],[110,-405],[190,-400],[265,-405],[340,-400],[415,-405],[-375,-445],[-305,-445],[-235,-445],[-165,-445],[-95,-440],[-15,-445],[65,-445],[145,-445],[225,-440],[300,-445],[375,-445],[-330,-480],[-260,-485],[-190,-480],[-110,-485],[-30,-480],[60,-480],[140,-485],[220,-480],[295,-485],[-280,-520],[-200,-525],[-120,-520],[-40,-525],[50,-520],[130,-525],[210,-520],[-210,-560],[-130,-560],[-50,-560],[30,-560],[110,-560],[-70,-610],[10,-600],[80,-620]];

const p4Red=[[-778,1175],[1279,1079],[650,873],[272,648],[-757,169],[-1655,213],[-1700,-88],[1321,74],[802,-1006],[-843,-1212]];
const p4Orange=[[-540,1263],[984,1273],[574,1035],[846,1025],[943,969],[379,981],[-366,981],[-984,981],[-841,1003],[1125,841],[-606,819],[-1091,765],[-1026,689],[-410,702],[-117,680],[292,670],[-778,648],[206,606],[-606,550],[1115,483],[151,483],[227,496],[520,442],[1212,397],[1157,343],[-616,397],[-454,388],[-65,420],[110,388],[227,410],[-713,343],[1538,312],[-78,290],[44,312],[650,290],[-196,248],[-399,236],[-984,248],[-1525,258],[-1514,248],[1298,213],[1363,204],[1548,172],[-1222,162],[-1146,150],[1212,150],[943,140],[117,128],[-1611,86],[-1178,10],[1097,52],[1494,32],[-1666,-12],[-1460,-2],[-1535,-34],[-1418,-44],[-1125,-44],[1572,-66],[-1235,-66],[-1259,-105],[-1212,-98],[-1157,-120],[-692,-98],[1538,-108],[1321,-98],[747,-108],[1279,-130],[1212,-142],[1582,-142],[-433,-120],[-196,-130],[-76,-162],[34,-162],[1634,-196],[-1232,-238],[1428,-272],[-1266,-292],[-1243,-314],[-1611,-292],[-225,-282],[248,-292],[-499,-388],[-496,-432],[-269,-432],[-809,-466],[1232,-466],[-1115,-498],[-214,-498],[-65,-488],[0,-508],[0,-552],[953,-488],[-146,-571],[371,-552],[854,-552],[-1256,-584],[-645,-606],[-624,-606],[1081,-618],[-898,-650],[-561,-660],[-1005,-672],[-290,-694],[454,-704],[-930,-726],[-648,-726],[347,-736],[-974,-768],[-73,-768],[-778,-800],[-864,-812],[-454,-812],[454,-812],[-517,-834],[-1071,-834],[-885,-866],[-517,-930],[770,-930],[533,-952],[-279,-964],[-431,-1006],[238,-1060],[551,-1082],[-248,-1136],[-875,-1298],[-183,-1342]];
const p4Green=[[24,1016],[-520,905],[110,895],[120,841],[392,959],[-561,832],[-551,790],[-504,810],[-470,810],[-345,800],[-225,819],[-42,810],[-24,800],[230,800],[606,819],[627,778],[812,743],[230,724],[-734,733],[-833,702],[695,711],[-313,702],[-269,702],[24,733],[543,689],[112,670],[358,670],[423,635],[-551,635],[-744,635],[-679,616],[-648,594],[-517,584],[-389,626],[-389,594],[-313,594],[89,606],[324,594],[736,626],[640,606],[836,584],[-833,559],[-961,527],[-530,527],[-420,537],[-243,550],[-238,518],[13,527],[188,537],[227,550],[352,518],[410,557],[475,559],[580,557],[619,564],[697,552],[-178,491],[-112,491],[-86,503],[-833,476],[-765,464],[-418,476],[-394,476],[-172,464],[444,478],[632,454],[684,464],[-1005,432],[-822,432],[-608,451],[-569,451],[-470,442],[-360,422],[820,432],[449,430],[624,430],[997,366],[527,392],[723,397],[-681,383],[-786,366],[-760,336],[-854,324],[-308,336],[-29,388],[410,405],[332,405],[475,392],[710,356],[627,343],[697,319],[614,258],[728,270],[410,245],[462,221],[-661,258],[-648,233],[-935,233],[1091,258],[1029,172],[1128,150],[-838,194],[-1104,194],[-595,197],[-465,213],[-238,164],[305,147],[358,140],[658,118],[692,128],[911,108],[-747,118],[-681,110],[-726,86],[-621,86],[-1170,64],[-953,74],[-896,86],[-974,32],[-896,10],[-1086,-12],[-796,20],[-760,13],[-713,5],[-674,-25],[-621,37],[-538,37],[-418,0],[-295,110],[-120,62],[201,86],[593,135],[619,57],[684,62],[736,37],[828,49],[854,37],[815,0],[1128,64],[997,-25],[1042,-66],[1094,-86],[815,-37],[697,0],[624,0],[332,-25],[384,-61],[-984,-98],[-856,-105],[-830,-147],[-752,-61],[-648,-73],[-984,-196],[-802,-221],[-765,-196],[-608,-135],[-444,-159],[723,-122],[802,-159],[888,-130],[976,-122],[983,-159],[1170,-164],[715,-196],[841,-233],[885,-221],[436,-184],[553,-196],[123,-233],[149,-270],[-112,-233],[-896,-321],[-864,-312],[-778,-324],[-621,-302],[-556,-282],[-399,-292],[-29,-302],[188,-307],[-321,-356],[-138,-356],[-86,-344],[97,-356],[201,-388],[319,-331],[457,-356],[567,-375],[619,-356],[658,-319],[684,-356],[736,-380],[822,-380],[932,-368],[-713,-400],[-666,-368],[-543,-400],[-439,-417],[266,-392],[-747,-444],[-661,-434],[-399,-442],[-634,-478],[-530,-491],[-491,-498],[-426,-491],[-347,-496],[-295,-498],[123,-466],[227,-478],[305,-515],[384,-442],[436,-454],[501,-466],[606,-442],[593,-491],[731,-498],[880,-454],[1018,-444],[854,-515],[-702,-508],[-770,-542],[-822,-571],[-394,-552],[-478,-564],[541,-540],[553,-564],[593,-571],[671,-557],[-504,-620],[-478,-625],[-308,-601],[89,-571],[240,-589],[266,-571],[-681,-645],[-582,-613],[-172,-630],[240,-630],[410,-625],[627,-625],[684,-625],[778,-638],[-608,-682],[-569,-694],[-128,-672],[-73,-682],[449,-657],[475,-657],[684,-682],[718,-694],[274,-694],[305,-704],[580,-694],[658,-724],[-373,-714],[-347,-714],[-225,-682],[65,-714],[-582,-758],[-269,-758],[-164,-738],[-465,-778],[-107,-812],[97,-790],[272,-834],[632,-790],[564,-812],[499,-812],[-410,-853],[76,-853],[136,-834],[640,-853],[-107,-898],[-540,-898],[227,-920],[305,-908],[-39,-1006],[37,-1028],[-410,-1038]];
const p4Blue=[[-260,690],[-10,680],[-108,516],[22,528],[-22,498],[122,532],[-252,492],[-322,452],[-262,442],[-196,468],[-132,452],[-62,470],[-2,444],[62,462],[122,448],[182,470],[252,452],[-392,408],[-332,398],[-272,416],[-206,394],[-142,412],[-82,396],[-22,414],[42,392],[112,410],[172,388],[232,406],[292,392],[352,410],[-442,362],[-382,352],[-322,372],[-262,348],[-192,366],[-132,346],[-62,364],[2,344],[72,362],[132,344],[192,364],[252,346],[312,364],[372,346],[432,362],[-522,312],[-462,322],[-402,304],[-342,318],[-282,298],[-212,316],[-152,296],[-82,314],[-22,296],[42,318],[102,298],[162,316],[222,298],[282,316],[342,298],[402,316],[462,298],[522,312],[-552,262],[-492,272],[-432,254],[-372,268],[-312,250],[-252,266],[-172,248],[-102,268],[-32,248],[42,266],[112,250],[172,268],[242,250],[302,268],[362,250],[422,268],[482,250],[542,264],[-562,212],[-502,222],[-442,204],[-382,218],[-322,200],[-262,216],[-192,198],[-122,216],[272,216],[332,198],[392,218],[452,200],[512,216],[572,200],[-572,162],[-512,172],[-452,154],[-392,168],[-332,150],[-272,166],[-12,156],[52,172],[122,154],[282,166],[342,150],[402,168],[462,150],[522,166],[582,152],[-582,112],[-522,122],[-462,104],[-402,118],[-342,100],[-282,116],[-72,104],[-12,118],[72,102],[132,116],[292,104],[352,118],[412,100],[472,118],[532,102],[592,116],[-592,62],[-532,72],[-472,54],[-412,68],[-352,50],[-292,66],[-152,52],[-82,68],[12,50],[92,66],[152,50],[302,66],[362,50],[422,68],[482,50],[542,66],[-592,12],[-532,22],[-472,4],[-412,18],[-352,0],[-292,16],[-122,2],[-52,18],[32,2],[112,16],[182,-2],[302,14],[362,-2],[422,16],[482,-2],[542,14],[602,-4],[-582,-38],[-522,-28],[-462,-46],[-402,-32],[-342,-50],[-282,-34],[-102,-48],[-32,-32],[42,-50],[122,-34],[192,-50],[302,-36],[362,-50],[422,-34],[482,-52],[542,-36],[632,-72],[-572,-88],[-512,-78],[-452,-96],[-392,-82],[-332,-100],[-272,-84],[-92,-98],[-22,-82],[52,-100],[132,-84],[202,-100],[292,-86],[352,-100],[412,-84],[472,-102],[532,-86],[592,-104],[-562,-138],[-502,-128],[-442,-146],[-382,-132],[-322,-150],[-262,-134],[-182,-150],[-102,-134],[-22,-150],[62,-134],[142,-150],[222,-134],[282,-150],[342,-134],[402,-152],[462,-136],[522,-154],[582,-138],[-542,-188],[-482,-178],[-422,-196],[-362,-182],[-302,-200],[-242,-184],[-172,-200],[-92,-184],[-12,-202],[72,-184],[152,-202],[222,-186],[292,-202],[352,-186],[412,-204],[472,-188],[532,-206],[-522,-238],[-462,-228],[-402,-246],[-342,-232],[-282,-250],[-222,-234],[-152,-250],[-72,-234],[2,-252],[82,-234],[152,-252],[222,-236],[292,-252],[352,-236],[412,-254],[472,-238],[532,-256],[-482,-288],[-422,-278],[-362,-296],[-302,-282],[-242,-300],[-172,-284],[-102,-300],[-22,-284],[52,-302],[122,-284],[192,-302],[262,-286],[332,-302],[392,-286],[452,-304],[512,-288],[-432,-338],[-372,-328],[-312,-346],[-252,-332],[-182,-350],[-112,-334],[-32,-350],[42,-334],[112,-352],[182,-334],[252,-352],[322,-336],[382,-352],[-352,-388],[-292,-378],[-222,-396],[-152,-382],[-72,-398],[2,-382],[82,-400],[152,-384],[222,-402],[-312,-438],[-142,-440],[-72,-428],[12,-448],[92,-432],[162,-446],[-182,-500],[-82,-540],[-32,-590],[152,-560],[32,-470]];
const p4BlueExtra=[[-300,430],[-170,430],[-40,440],[90,425],[210,425],[-360,380],[-230,385],[-100,375],[30,375],[150,380],[270,375],[390,385],[-490,340],[-370,335],[-240,330],[-115,330],[10,330],[130,330],[250,330],[370,330],[490,340],[-520,290],[-400,285],[-250,280],[-120,285],[70,285],[190,285],[310,285],[430,280],[-530,240],[-400,240],[-280,235],[-140,232],[10,235],[140,232],[270,235],[390,240],[510,232],[-535,190],[-410,190],[-290,188],[300,190],[425,185],[545,185],[-545,140],[-420,140],[-305,135],[310,135],[430,135],[555,135],[-555,90],[-430,88],[-315,85],[325,85],[445,85],[565,85],[-560,40],[-440,35],[-320,35],[330,35],[450,30],[570,35],[-560,-15],[-440,-15],[-320,-15],[335,-20],[450,-20],[570,-20],[-550,-65],[-430,-65],[-310,-65],[325,-65],[445,-70],[565,-70],[-540,-115],[-420,-115],[-300,-115],[-60,-120],[90,-118],[320,-115],[440,-118],[560,-120],[-520,-165],[-400,-165],[-280,-165],[-140,-170],[20,-170],[180,-170],[320,-165],[440,-170],[555,-172],[-490,-215],[-370,-215],[-250,-215],[-110,-215],[40,-215],[190,-215],[320,-218],[440,-220],[-450,-265],[-330,-265],[-205,-268],[-60,-268],[90,-268],[230,-268],[360,-268],[485,-270],[-400,-315],[-280,-315],[-140,-318],[5,-318],[150,-318],[290,-320],[420,-320],[-320,-360],[-190,-365],[-30,-365],[120,-368],[280,-370],[-260,-415],[-110,-412],[50,-415],[190,-420]];
const p4Gray=[[726,1629],[-81,1570],[888,1543],[279,1533],[423,1533],[300,1489],[-151,1423],[-355,1361],[-326,1317],[1321,1317],[593,1295],[97,1273],[1081,1273],[279,1229],[-465,1209],[423,1209],[943,1209],[-217,1165],[488,1155],[-932,1111],[-713,1089],[-496,1089],[-303,1121],[292,1121],[-47,1116],[-157,1079],[-1052,949],[-569,981],[-486,994],[-217,1018],[305,944],[-86,932],[1256,940],[-749,854],[-457,841],[-1235,797],[-943,746],[-347,765],[-1353,648],[1366,648],[-164,810],[345,846],[449,810],[710,834],[854,670],[-1235,451],[1037,552],[802,378],[1386,343],[-987,290],[1154,248],[-1274,226],[-1366,150],[-1300,118],[1311,108],[-1052,74],[-1332,-2],[1342,0],[1141,-78],[-1439,-152],[-1170,-196],[1352,-218],[-1104,-292],[1201,-368],[-1449,-412],[-1118,-405],[-995,-498],[1180,-498],[1071,-520],[-1235,-694],[1149,-714],[-760,-714],[-1687,-758],[1128,-780],[1081,-844],[201,-758],[384,-827],[833,-812],[44,-895],[-747,-939],[-191,-920],[410,-952],[789,-1104],[-726,-1091],[-603,-1123],[-1125,-1145],[509,-1158],[-1238,-1212],[-368,-1222],[-256,-1244],[-326,-1266],[379,-1234],[475,-1234],[671,-1177],[162,-1415],[313,-1460],[-10,-1514],[34,-1536],[-540,-1526],[-486,-1612],[-117,-1612],[-138,-1666],[-778,-1656],[-627,-1700]];

const RED='#ff0000',ORANGE='#ffa500',GREEN='#008000',BLUE='#4682b4';
const grids=[
 {left:198,top:52,width:1143,height:854,xr:30,yr:22.4,xt:xTicksTop,yt:yTicksTop,xn:'x [km]',yn:'y [km]'},
 {left:1667,top:52,width:1144,height:854,xr:30,yr:22.4,xt:xTicksTop,yt:yTicksTop,xn:'y [km]',yn:'z [km]'},
 {left:267,top:1159,width:1113,height:832,xr:2680,yr:2000,xt:xTicksBot,yt:yTicksBot,xn:'x [km]',yn:'z [km]'},
 {left:1735,top:1159,width:1114,height:832,xr:2680,yr:2000,xt:xTicksBot,yt:yTicksBot,xn:'x [km]',yn:'z [km]'}];
const font='"DejaVu Sans"';
const minus=v=>String(v).replace('-','\u2212');
function poly(i,pts,fill,stroke,lw){return {type:'custom',xAxisIndex:i,yAxisIndex:i,silent:true,z:2,data:[[0,0]],
 renderItem:(p,api)=>({type:'polygon',shape:{points:pts.map(q=>api.coord(q)),smooth:0.35},style:{fill:fill,stroke:stroke,lineWidth:lw}})};}
function straight(i,pts,fill){return {type:'custom',xAxisIndex:i,yAxisIndex:i,silent:true,z:2,data:[[0,0]],
 renderItem:(p,api)=>({type:'polygon',shape:{points:pts.map(q=>api.coord(q))},style:{fill:fill}})};}
function scat(i,d,c,s,sym,op){return {type:'scatter',xAxisIndex:i,yAxisIndex:i,data:d,symbol:sym||'circle',symbolSize:s,silent:true,progressive:0,itemStyle:{color:c,opacity:op||1},z:3};}
function txt(l,cy,t,c,right){return {type:'text',x:l,y:cy,z:50,style:{text:t,fill:c,font:'48px '+font,textAlign:right?'right':'left',textVerticalAlign:'middle'}};}
const haloFill=()=>new echarts.graphic.RadialGradient(0.5,0.5,0.5,[{offset:0,color:'rgba(20,20,20,0.95)'},{offset:0.5,color:'rgba(60,60,60,0.8)'},{offset:0.75,color:'rgba(140,140,140,0.55)'},{offset:1,color:'rgba(215,215,215,0.25)'}]);
const opt={animation:false,backgroundColor:'#fff',
 grid:grids.map(g=>({left:g.left,top:g.top,width:g.width,height:g.height,show:true,borderColor:'#000',borderWidth:3,backgroundColor:'transparent',outerBoundsMode:'none',containLabel:false})),
 xAxis:grids.map((g,i)=>({type:'value',gridIndex:i,min:-g.xr,max:g.xr,name:g.xn,nameLocation:'middle',nameGap:i<2?96:74,nameMoveOverlap:false,nameTextStyle:{fontFamily:font,fontSize:64,color:'#000',padding:[0,i<2?18:8,0,0]},
  splitLine:{show:false},axisLine:{show:true,onZero:false,lineStyle:{color:'#000',width:3}},axisTick:{show:true,length:14,customValues:g.xt,lineStyle:{color:'#000',width:3}},axisLabel:{customValues:g.xt,margin:20,fontFamily:font,fontSize:56,color:'#000',formatter:minus}})),
 yAxis:grids.map((g,i)=>({type:'value',gridIndex:i,min:-g.yr,max:g.yr,name:g.yn,nameLocation:'middle',nameGap:73,nameMoveOverlap:false,nameTextStyle:{fontFamily:font,fontSize:64,color:'#000',padding:[0,i<2?14:0,0,0]},
  splitLine:{show:false},axisLine:{show:true,onZero:false,lineStyle:{color:'#000',width:3}},axisTick:{show:true,length:14,customValues:g.yt,lineStyle:{color:'#000',width:3}},axisLabel:{customValues:g.yt,margin:24,padding:[20,0,0,0],fontFamily:font,fontSize:56,color:'#000',formatter:minus}})),
 series:[
  poly(0,blob1,'#000','rgba(30,30,30,0.55)',6),
  scat(0,p1Blue,BLUE,11),scat(0,p1Green,GREEN,11),scat(0,p1Orange,ORANGE,12),scat(0,p1Red,RED,13),
  straight(1,haze2Top,'rgba(110,110,110,0.45)'),straight(1,haze2Bot,'rgba(110,110,110,0.45)'),
  poly(1,blob2,'#000','rgba(30,30,30,0.55)',6),
  scat(1,p2Gray,'#cccccc',8,'diamond'),scat(1,p2Blue,BLUE,11),scat(1,p2Green,GREEN,11),scat(1,p2Orange,ORANGE,12),scat(1,p2Red,RED,13),
  poly(2,halo3,haloFill(),'rgba(0,0,0,0)',0),poly(2,core3,'#000','rgba(30,30,30,0.4)',8),
  scat(2,p3Blue,BLUE,12),scat(2,p3BlueExtra,BLUE,12),scat(2,p3Green,GREEN,11),scat(2,p3Orange,ORANGE,12),scat(2,p3Red,RED,13),
  scat(3,p4Gray,'#d4d4d4',7,'diamond'),
  poly(3,halo4,haloFill(),'rgba(0,0,0,0)',0),poly(3,core4,'#000','rgba(30,30,30,0.4)',8),
  scat(3,p4Blue,BLUE,12),scat(3,p4BlueExtra,BLUE,12),scat(3,p4Green,GREEN,11),scat(3,p4Orange,ORANGE,12),scat(3,p4Red,RED,13)],
 graphic:[txt(254,123,'t= 4.49 ms','#000'),txt(254,199,'MPA1','#000'),txt(1313,123,'0.6c<v<0.8c',RED,1),txt(1313,199,'0.4c<v<0.6c',ORANGE,1),txt(1313,275,'0.2c<v<0.4c',GREEN,1),txt(1313,351,'0.0c<v<0.2c',BLUE,1),
  txt(1724,123,'t= 4.49 ms','#000'),txt(322,1210,'t= 15.1 ms','#000'),txt(1793,1210,'t= 15.1 ms','#000')]};
echarts.init(document.getElementById('c'),null,{renderer:'canvas'}).setOption(opt);
</script></body></html>
